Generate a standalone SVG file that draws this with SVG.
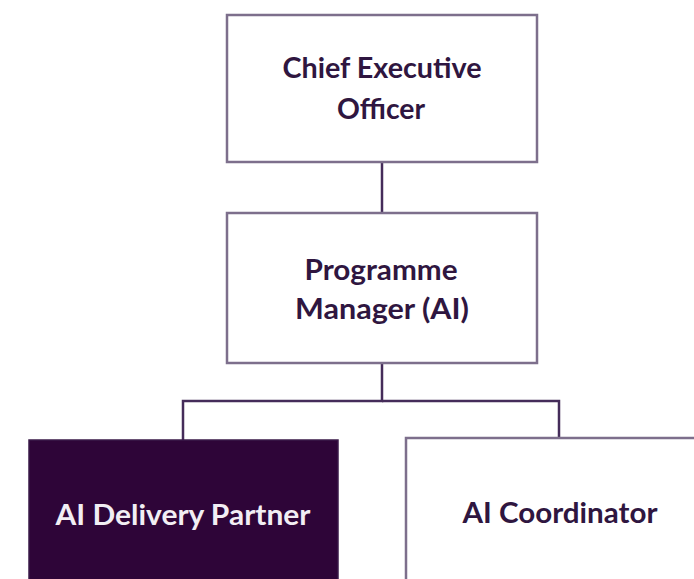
<svg xmlns="http://www.w3.org/2000/svg" width="694" height="579" viewBox="0 0 694 579">
<style>
.box{fill:#ffffff;stroke:#7d6f8c;stroke-width:2.5}
.dark{fill:#2e0538;stroke:#3a1a48;stroke-width:1.5}
.conn{fill:none;stroke:#452c5a;stroke-width:2.5}
.t{font-family:Lato,"Open Sans","Liberation Sans",sans-serif;font-weight:700;font-size:29px;fill:#2f1640;text-anchor:middle}
.tw{fill:#f2eef4}
</style>
<rect width="694" height="579" fill="#ffffff"/>
<g id="connectors">
<line class="conn" x1="382" y1="162" x2="382" y2="213"/>
<polyline class="conn" points="382,363 382,401 183,401 183,440"/>
<polyline class="conn" points="382,401 559,401 559,438"/>
</g>
<g id="ceo">
<rect class="box" x="227" y="15" width="310" height="147"/>
<text class="t" x="382" y="78" textLength="199" lengthAdjust="spacingAndGlyphs">Chief Executive</text>
<text class="t" x="381" y="119" textLength="88" lengthAdjust="spacingAndGlyphs">Officer</text>
</g>
<g id="programme-manager">
<rect class="box" x="227" y="213" width="310" height="150"/>
<text class="t" x="381" y="280" textLength="153" lengthAdjust="spacingAndGlyphs">Programme</text>
<text class="t" x="382" y="319" textLength="174" lengthAdjust="spacingAndGlyphs">Manager (AI)</text>
</g>
<g id="delivery-partner">
<rect class="dark" x="29" y="440" width="309" height="150"/>
<text class="t tw" x="183" y="525" textLength="255" lengthAdjust="spacingAndGlyphs">AI Delivery Partner</text>
</g>
<g id="coordinator">
<rect class="box" x="406" y="438" width="310" height="150"/>
<text class="t" x="560" y="523" textLength="195" lengthAdjust="spacingAndGlyphs">AI Coordinator</text>
</g>
</svg>
